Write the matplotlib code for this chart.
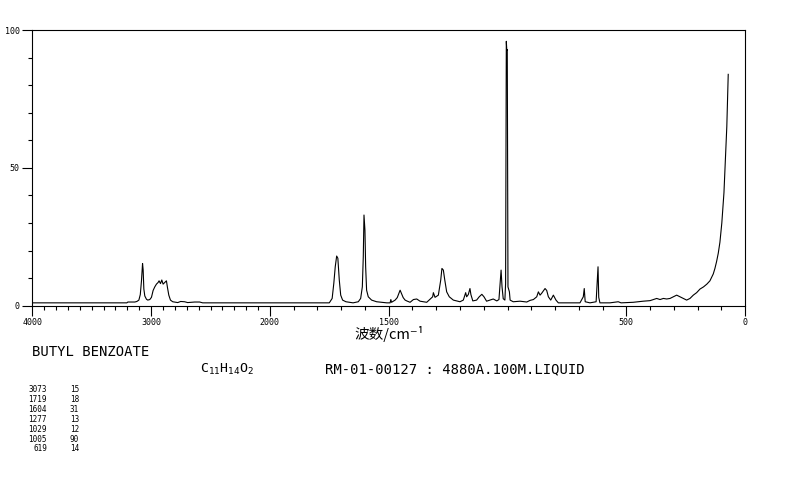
import numpy as np
import matplotlib
matplotlib.use('Agg')
import matplotlib.pyplot as plt
from matplotlib.ticker import FixedLocator

# Raman spectrum: wavenumber (cm-1) vs intensity.
ch_wn = [4000, 3263, 3204, 3196, 3137, 3120, 3103, 3091, 3081, 3072, 3067,
         3061, 3053, 3039, 3028, 3011, 2997, 2983, 2969, 2955, 2941, 2933,
         2921, 2910, 2899, 2885, 2871, 2862, 2851, 2837, 2818, 2776, 2751,
         2718, 2692, 2633, 2591, 2566]
ch_int = [1.0, 1.0, 1.0, 1.3, 1.3, 1.5, 2.0, 4.0, 9.0, 15.3, 13.0,
          6.0, 3.5, 2.3, 2.0, 2.2, 3.0, 5.5, 6.8, 7.8, 8.4, 9.0,
          8.0, 9.3, 7.8, 8.4, 9.0, 6.5, 3.8, 2.0, 1.4, 1.1, 1.5,
          1.4, 1.1, 1.3, 1.3, 1.0]

mid_wn = [1750, 1738, 1731, 1725, 1719, 1714, 1708, 1702, 1694, 1680, 1650,
          1628, 1618, 1611, 1607, 1604, 1600, 1597, 1593, 1586, 1572, 1551,
          1508, 1494, 1491, 1488, 1473, 1464, 1452, 1445, 1439, 1431, 1424,
          1410, 1396, 1382, 1368, 1340]
mid_int = [1.0, 2.6, 8.1, 14.1, 18.0, 17.2, 9.3, 3.8, 2.0, 1.4, 1.0,
           1.4, 2.6, 6.8, 17.7, 32.9, 27.4, 14.1, 5.6, 3.2, 2.0, 1.4,
           1.0, 1.0, 2.2, 1.2, 2.0, 2.9, 5.6, 4.2, 2.9, 2.0, 1.7,
           1.2, 2.2, 2.4, 1.6, 1.2]

fp_wn = [1315, 1312, 1305, 1291, 1281, 1276, 1270, 1264, 1256, 1245, 1228,
         1200, 1186, 1176, 1172, 1165, 1158, 1154, 1146, 1130, 1119, 1108,
         1099, 1088, 1074, 1060, 1045, 1036, 1030, 1027, 1023, 1018, 1011,
         1008, 1005, 1003, 1001, 998, 992, 989, 976, 947, 919, 905, 891,
         877, 870, 863, 856, 842, 835, 828, 818, 807, 796, 786, 751, 695,
         681, 677, 673, 653, 627, 623, 619, 616, 611, 569, 534, 522]
fp_int = [3.2, 4.7, 3.0, 3.8, 9.3, 13.5, 12.9, 9.3, 5.0, 3.2, 2.0,
          1.4, 2.0, 4.7, 3.2, 4.0, 6.2, 4.0, 1.7, 2.0, 3.2, 4.1,
          3.2, 1.6, 2.0, 2.4, 1.7, 2.2, 9.3, 12.9, 6.8, 2.5, 2.0,
          8.0, 96.0, 92.8, 93.0, 6.8, 5.0, 2.0, 1.4, 1.6, 1.3, 1.9, 2.2,
          3.2, 5.0, 3.8, 4.5, 6.2, 5.5, 3.2, 2.0, 3.8, 2.0, 1.0, 1.0, 1.0,
          3.2, 6.2, 1.4, 1.0, 1.4, 8.1, 14.1, 3.0, 1.0, 1.0, 1.4, 1.0]

low_wn = [471, 429, 400, 372, 358, 344, 330, 316, 302, 288, 274, 260, 246,
          232, 218, 204, 190, 175, 161, 148, 134, 127, 120, 113, 106, 98,
          89, 83, 77, 73, 71]
low_int = [1.2, 1.6, 1.8, 2.6, 2.2, 2.6, 2.4, 2.6, 3.2, 3.8, 3.2, 2.6, 2.0,
           2.6, 3.8, 4.7, 6.0, 6.8, 7.8, 9.0, 11.5, 13.5, 16, 19, 23, 30,
           41, 53, 65, 77, 84]

# peak list printed under the chart
peak_wn = ['3073', '1719', '1604', '1277', '1029', '1005', '619']
peak_int = ['15', '18', '31', '13', '12', '90', '14']

x_ticks = [4000, 3000, 2000, 1500, 500, 0]
x_ticklabels = ['4000', '3000', '2000', '1500', '500', '0']
y_ticks = [0, 50, 100]
y_ticklabels = ['0', '50', '100']

W, H = 794, 482
MONO = 'DejaVu Sans Mono'


def fwd(w):
    # above 2000 cm-1 the axis is compressed by half
    w = np.asarray(w, dtype=float)
    return np.where(w > 2000, 2000 + (w - 2000) / 2, w)


def inv(u):
    u = np.asarray(u, dtype=float)
    return np.where(u > 2000, 2000 + (u - 2000) * 2, u)


def ftext(x, y, s, **kw):
    return fig.text(x / W, 1 - y / H, s, **kw)


wn = ch_wn + mid_wn + fp_wn + low_wn
inten = ch_int + mid_int + fp_int + low_int

fig = plt.figure(figsize=(W / 100, H / 100), dpi=100)
ax = fig.add_axes([32.3 / W, 1 - 305.6 / H, (745.1 - 32.3) / W, (305.6 - 30.3) / H])

ax.plot(wn, inten, color='black', lw=0.8)

ax.set_xscale('function', functions=(fwd, inv))
ax.set_xlim(4000, 0)
ax.set_ylim(0, 100)

ax.set_xticks(x_ticks, labels=x_ticklabels)
ax.xaxis.set_minor_locator(FixedLocator(np.arange(0, 4001, 100)))
ax.set_yticks(y_ticks, labels=y_ticklabels)
ax.yaxis.set_minor_locator(FixedLocator(np.arange(0, 101, 10)))

ax.tick_params(which='major', length=7, width=0.8, direction='out',
               labelsize=6, pad=2)
ax.tick_params(which='minor', length=3, width=0.8, direction='out')
for lab in ax.get_xticklabels() + ax.get_yticklabels():
    lab.set_family(MONO)
for sp in ax.spines.values():
    sp.set_linewidth(0.8)

ftext(389, 334, '波数/cm⁻¹', ha='center', va='center', size=10.5,
      family=['Noto Sans CJK SC', 'DejaVu Sans'])

ftext(32, 352, 'BUTYL BENZOATE', ha='left', va='center', size=10, family=MONO)
ftext(200, 369, r'$\mathtt{C_{11}H_{14}O_{2}}$', ha='left', va='center', size=9.5)
ftext(325, 369, 'RM-01-00127 : 4880A.100M.LIQUID', ha='left', va='center',
      size=10, family=MONO)

for i, (w, v) in enumerate(zip(peak_wn, peak_int)):
    y = 390 + i * 9.8
    ftext(47, y, w, ha='right', va='center', size=5.5, family=MONO)
    ftext(79, y, v, ha='right', va='center', size=5.5, family=MONO)

fig.savefig('out.png', dpi=100, facecolor='white')
